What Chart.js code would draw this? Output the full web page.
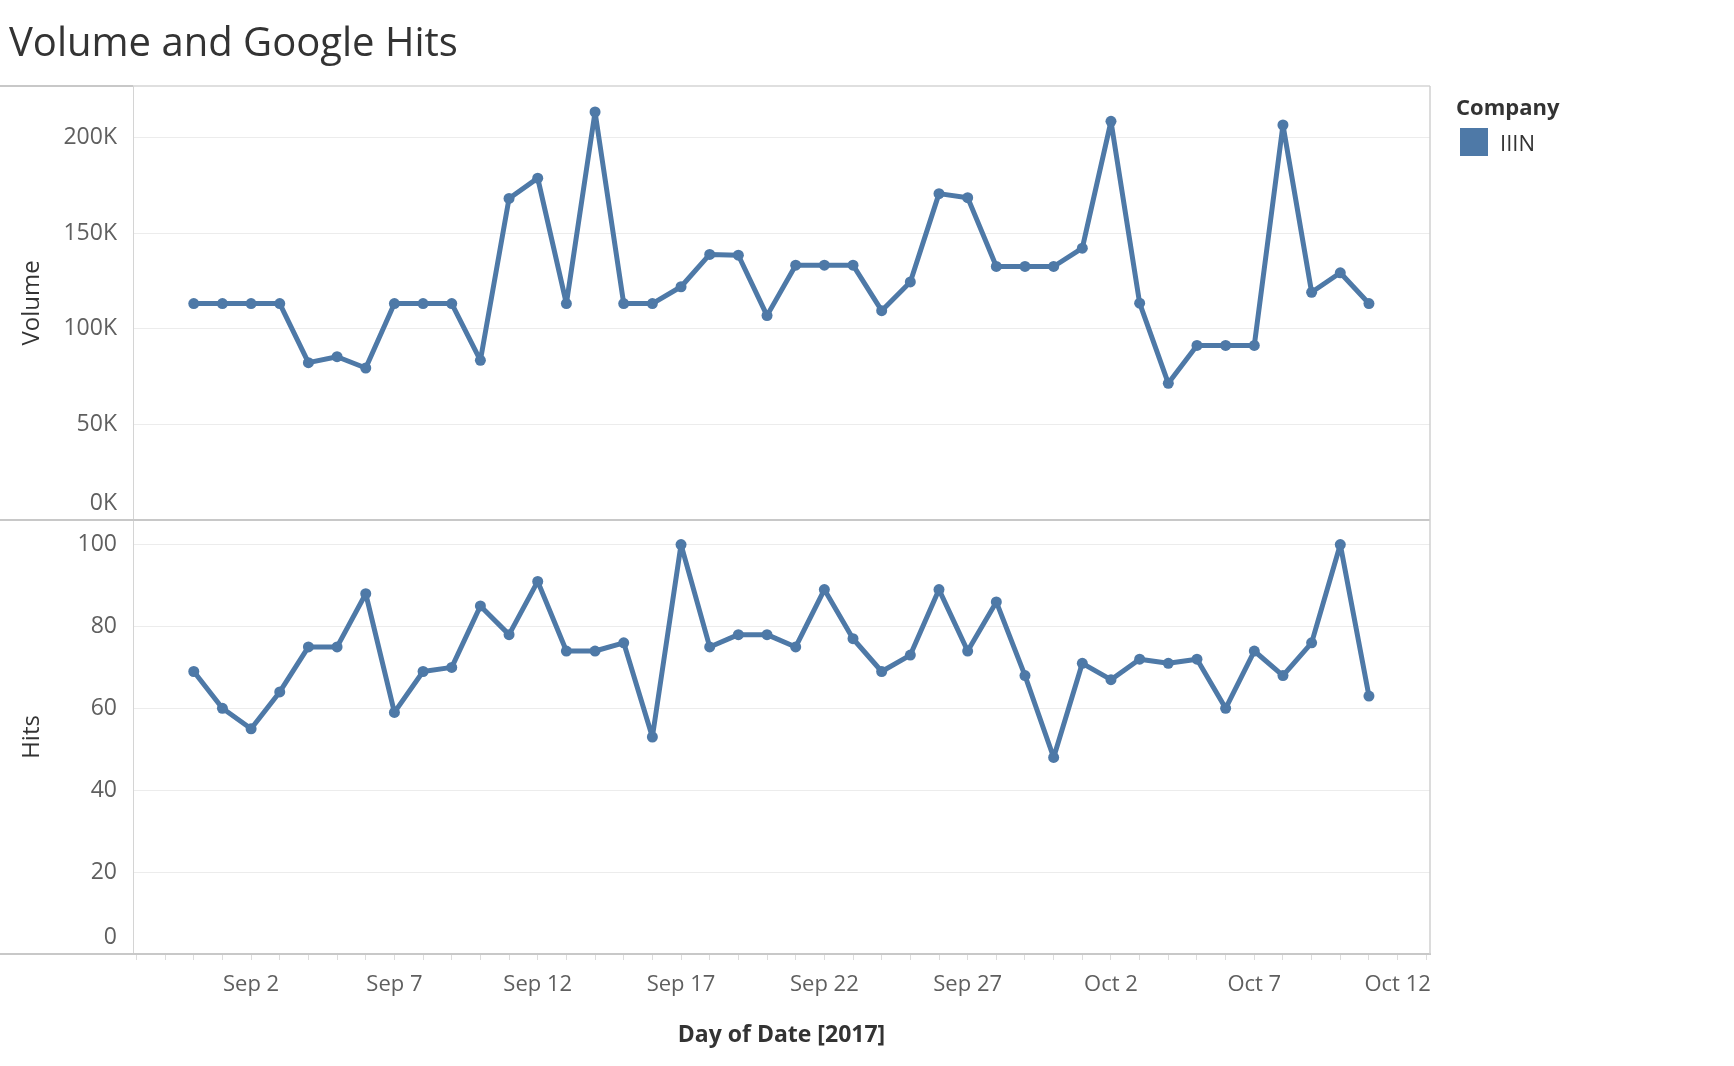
<!DOCTYPE html>
<html>
<head>
<meta charset="utf-8">
<title>Volume and Google Hits</title>
<script src="https://cdn.jsdelivr.net/npm/chart.js@4.4.1/dist/chart.umd.min.js"></script>
<style>
html, body { margin: 0; padding: 0; background: #fff; overflow: hidden; }
#box { position: relative; width: 1734px; height: 1066px; }
#legenda { position: absolute; left: 1456px; top: 92px; font-family: 'Open Sans', sans-serif; color: #333; }
#legenda .titulo { font-size: 22px; font-weight: bold; line-height: 28px; }
#legenda .item { margin-top: 8px; margin-left: 4px; height: 28px; display: flex; align-items: center; font-size: 22px; }
#legenda .cor { width: 28px; height: 28px; background: #4e79a7; margin-right: 12px; }
</style>
</head>
<body>
<div id="box">
  <canvas id="graf" width="1734" height="1066"></canvas>
  <div id="legenda">
    <div class="titulo">Company</div>
    <div class="item"><span class="cor"></span><span id="nomeEmpresa"></span></div>
  </div>
</div>
<script>
// one point per day, 31 Aug -> 11 Oct 2017
var dias = ['Aug 31','Sep 1','Sep 2','Sep 3','Sep 4','Sep 5','Sep 6','Sep 7','Sep 8','Sep 9',
  'Sep 10','Sep 11','Sep 12','Sep 13','Sep 14','Sep 15','Sep 16','Sep 17','Sep 18','Sep 19',
  'Sep 20','Sep 21','Sep 22','Sep 23','Sep 24','Sep 25','Sep 26','Sep 27','Sep 28','Sep 29',
  'Sep 30','Oct 1','Oct 2','Oct 3','Oct 4','Oct 5','Oct 6','Oct 7','Oct 8','Oct 9','Oct 10','Oct 11'];

// top panel
var volume = [113200,113200,113200,113200,82300,85400,79500,113200,113200,113200,
  83500,168200,178800,113200,213400,113200,113200,122000,138900,138500,
  106900,133300,133300,133300,109500,124500,170700,168600,132600,132600,
  132600,142200,208500,113400,71500,91300,91300,91300,206600,119100,129300,113200];

// bottom panel
var hits = [69,60,55,64,75,75,88,59,69,70,
  85,78,91,74,74,76,53,100,75,78,
  78,75,89,77,69,73,89,74,86,68,
  48,71,67,72,71,72,60,74,68,76,100,63];

var empresa = 'IIIN';

// tick labels
var ticksVolume = [0, 50000, 100000, 150000, 200000];
var ticksHits = [0, 20, 40, 60, 80, 100];
var rotulosX = ['Sep 2','Sep 7','Sep 12','Sep 17','Sep 22','Sep 27','Oct 2','Oct 7','Oct 12'];

var mesesCurtos = ['Jan','Feb','Mar','Apr','May','Jun','Jul','Aug','Sep','Oct','Nov','Dec'];
function nomeDia(d) {
  var dt = new Date(2017, 7, 31 + d);
  return mesesCurtos[dt.getMonth()] + ' ' + dt.getDate();
}

document.getElementById('nomeEmpresa').textContent = empresa;

var fonte = "'Open Sans', sans-serif";
var azul = '#4e79a7';
var cinzaTexto = '#5f5f5f';

// font for y tick labels, the 0 label gets pushed up above the panel line
function fonteTickY(c) {
  var zero = c.tick && c.tick.value === 0;
  return { family: fonte, size: 23, lineHeight: zero ? 1.4 : 1.2 };
}

// frame lines like the tableau pane borders
var moldura = {
  id: 'moldura',
  afterDraw: function(chart) {
    var c = chart.ctx;
    var a = chart.chartArea;
    var meio = Math.min(chart.scales.yVolume.bottom, chart.scales.yHits.bottom);
    function linha(x1, y1, x2, y2, w, cor) {
      c.beginPath();
      c.lineWidth = w;
      c.strokeStyle = cor;
      c.moveTo(x1, y1);
      c.lineTo(x2, y2);
      c.stroke();
    }
    c.save();
    linha(0, a.top, a.left, a.top, 2, '#c8c8c8');
    linha(a.left, a.top, a.right, a.top, 1.5, '#d4d4d4');
    linha(0, meio, a.right, meio, 2, '#c8c8c8');
    linha(0, a.bottom, a.right + 1, a.bottom, 2, '#c8c8c8');
    linha(a.right, a.top, a.right, a.bottom, 1.5, '#d0d0d0');
    c.restore();
  }
};

var ctx = document.getElementById('graf');
var graf = new Chart(ctx, {
  type: 'line',
  data: {
    datasets: [
      {
        label: empresa,
        data: dias.map(function(d, i) { return { x: i, y: volume[i] }; }),
        yAxisID: 'yVolume',
        borderColor: azul,
        backgroundColor: azul,
        borderWidth: 5,
        borderJoinStyle: 'round',
        pointRadius: 5.5,
        pointBorderWidth: 0,
        pointBackgroundColor: azul,
        fill: false,
        tension: 0
      },
      {
        label: empresa,
        data: dias.map(function(d, i) { return { x: i, y: hits[i] }; }),
        yAxisID: 'yHits',
        borderColor: azul,
        backgroundColor: azul,
        borderWidth: 5,
        borderJoinStyle: 'round',
        pointRadius: 5.5,
        pointBorderWidth: 0,
        pointBackgroundColor: azul,
        fill: false,
        tension: 0
      }
    ]
  },
  options: {
    responsive: false,
    animation: false,
    layout: { padding: { left: 9, right: 304, top: 0, bottom: 0 } },
    plugins: {
      legend: { display: false },
      tooltip: { enabled: false },
      title: {
        display: true,
        text: 'Volume and Google Hits',
        align: 'start',
        color: '#333',
        font: { family: fonte, size: 40, weight: 'normal' },
        padding: { top: 21, bottom: 17 }
      }
    },
    scales: {
      // stacked panels: the one listed first ends up at the bottom
      yHits: {
        type: 'linear',
        position: 'left',
        stack: 'paineis',
        stackWeight: 1,
        min: 0,
        max: 106,
        bounds: 'data',
        afterBuildTicks: function(s) { s.ticks = ticksHits.map(function(v) { return { value: v }; }); },
        afterFit: function(s) { s.width = 124; },
        ticks: {
          autoSkip: false,
          color: cinzaTexto,
          font: fonteTickY,
          padding: 16,
          callback: function(v) { return v === 0 ? ['0', ''] : String(v); }
        },
        grid: { color: '#ececec', lineWidth: 1, drawTicks: false },
        border: { display: true, color: '#d4d4d4', width: 1 },
        title: {
          display: true,
          text: 'Hits',
          color: '#333',
          font: { family: fonte, size: 24 },
          padding: { top: 9, bottom: 0 }
        }
      },
      yVolume: {
        type: 'linear',
        position: 'left',
        stack: 'paineis',
        stackWeight: 1,
        min: 0,
        max: 227000,
        bounds: 'data',
        afterBuildTicks: function(s) { s.ticks = ticksVolume.map(function(v) { return { value: v }; }); },
        afterFit: function(s) { s.width = 124; },
        ticks: {
          autoSkip: false,
          color: cinzaTexto,
          font: fonteTickY,
          padding: 16,
          callback: function(v) { return v === 0 ? ['0K', ''] : (v / 1000) + 'K'; }
        },
        grid: { color: '#ececec', lineWidth: 1, drawTicks: false },
        border: { display: true, color: '#d4d4d4', width: 1 },
        title: {
          display: true,
          text: 'Volume',
          color: '#333',
          font: { family: fonte, size: 24 },
          padding: { top: 9, bottom: 0 }
        }
      },
      x: {
        type: 'linear',
        position: 'bottom',
        min: -2.12,
        max: 43.13,
        bounds: 'data',
        afterBuildTicks: function(s) {
          var t = [];
          for (var d = -2; d <= 43; d++) t.push({ value: d });
          s.ticks = t;
        },
        afterFit: function(s) { s.height = 112; },
        ticks: {
          autoSkip: false,
          maxRotation: 0,
          padding: 12,
          color: cinzaTexto,
          font: { family: fonte, size: 22 },
          callback: function(v) {
            var n = nomeDia(v);
            return rotulosX.indexOf(n) >= 0 ? n : '';
          }
        },
        grid: { drawOnChartArea: false, drawTicks: true, tickLength: 6, color: '#dcdcdc' },
        border: { display: false },
        title: {
          display: true,
          text: 'Day of Date [2017]',
          color: '#333',
          font: { family: fonte, size: 23, weight: 'bold' },
          padding: { top: 0, bottom: 17 }
        }
      }
    }
  },
  plugins: [moldura]
});
</script>
</body>
</html>
